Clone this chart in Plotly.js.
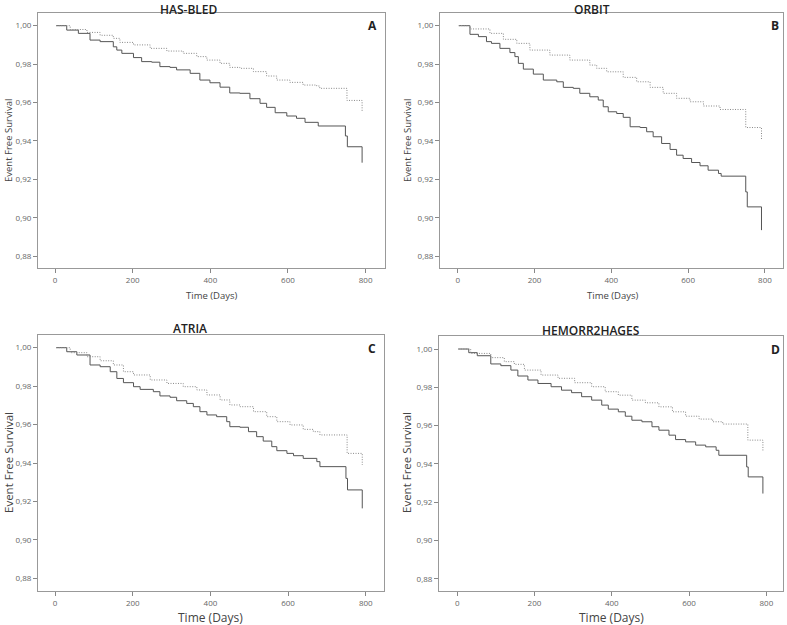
<!DOCTYPE html>
<html><head><meta charset="utf-8">
<script src="https://cdn.plot.ly/plotly-3.0.1.min.js"></script>
<style>html,body{margin:0;padding:0;background:#fff}#chart{width:787px;height:625px}</style>
</head><body><div id="chart"></div>
<script>
// Panel titles and labels
const panelTitles = ["HAS-BLED", "ORBIT", "ATRIA", "HEMORR2HAGES"];
const panelLetters = ["A", "B", "C", "D"];
const xTickVals = [0, 200, 400, 600, 800];
const yTickVals = [0.88, 0.90, 0.92, 0.94, 0.96, 0.98, 1.00];

// A: HAS-BLED
const aSolidDays = [3,30,60,90,116,150,159,172,202,223,249,270,296,313,348,373,399,425,450,476,502,528,545,567,597,622,644,678,748,753,791];
const aSolidSurv = [1.000,0.9977,0.996,0.9925,0.9917,0.989,0.9873,0.9856,0.9834,0.9813,0.981,0.9787,0.9783,0.977,0.9752,0.9717,0.9703,0.968,0.965,0.9648,0.962,0.9596,0.9575,0.9547,0.953,0.9518,0.9497,0.9478,0.9426,0.937,0.9287];
const aDotDays = [3,39,82,116,150,167,202,245,288,330,365,391,425,450,476,511,545,571,605,639,674,682,752,791];
const aDotSurv = [1.000,0.998,0.9965,0.995,0.9934,0.9913,0.990,0.9882,0.9868,0.9856,0.9839,0.9821,0.9804,0.9783,0.9778,0.9761,0.9738,0.9717,0.9705,0.9691,0.9686,0.9674,0.9611,0.9551];

// B: ORBIT
const bSolidDays = [3,10,32,54,75,88,110,136,149,158,171,197,223,258,275,301,318,344,366,379,392,414,431,449,475,492,509,531,553,570,587,609,631,652,679,686,750,754,791];
const bSolidSurv = [1.000,1.000,0.9955,0.9943,0.9917,0.9908,0.9882,0.986,0.9839,0.9804,0.9774,0.9748,0.9717,0.9708,0.9679,0.9674,0.9648,0.963,0.9613,0.9578,0.9552,0.9543,0.9523,0.9474,0.947,0.9448,0.9422,0.9387,0.9356,0.9326,0.9309,0.9288,0.9271,0.9248,0.9231,0.9217,0.9135,0.9057,0.8936];
const bDotDays = [3,32,84,119,154,188,240,292,344,362,388,431,466,501,535,570,605,640,683,750,791];
const bDotSurv = [1.000,0.9983,0.996,0.9929,0.9908,0.9873,0.9847,0.9821,0.9795,0.9778,0.976,0.9731,0.9708,0.9679,0.9648,0.9622,0.9604,0.9582,0.9564,0.947,0.9405];

// C: ATRIA
const cSolidDays = [3,30,56,90,116,142,159,176,202,219,253,270,296,313,339,356,373,391,416,442,450,476,498,519,536,558,571,597,614,639,674,682,749,753,791];
const cSolidSurv = [1.000,0.9979,0.9962,0.991,0.9901,0.9875,0.984,0.9818,0.9797,0.9783,0.9771,0.9749,0.9742,0.9724,0.971,0.9693,0.9667,0.965,0.9641,0.9615,0.9589,0.9586,0.9563,0.9537,0.9514,0.9485,0.9464,0.945,0.9438,0.9424,0.9407,0.9381,0.932,0.926,0.9164];
const cDotDays = [3,39,82,116,150,176,202,245,288,330,365,391,425,450,476,511,545,571,605,639,665,682,752,791];
const cDotSurv = [1.000,0.9974,0.9953,0.9932,0.991,0.9875,0.9858,0.9832,0.9814,0.9797,0.978,0.9754,0.9728,0.9702,0.9693,0.9667,0.9641,0.9615,0.9598,0.9575,0.9563,0.9546,0.945,0.939];

// D: HEMORR2HAGES
const dSolidDays = [3,30,52,87,113,139,157,183,209,243,270,296,322,348,374,391,417,435,452,478,504,522,548,565,591,617,643,670,677,749,753,791];
const dSolidSurv = [1.000,0.9981,0.9965,0.9922,0.9913,0.989,0.9859,0.9838,0.982,0.9803,0.9785,0.9772,0.9751,0.9733,0.9707,0.9686,0.9672,0.9649,0.9628,0.962,0.9594,0.9576,0.955,0.9527,0.9515,0.9498,0.9489,0.9471,0.9445,0.9384,0.9332,0.9245];
const dDotDays = [3,35,87,122,148,174,217,261,304,348,383,417,452,487,522,557,591,626,661,687,752,791];
const dDotSurv = [1.000,0.9977,0.9955,0.9934,0.992,0.989,0.9864,0.9847,0.9824,0.9803,0.9777,0.9759,0.9733,0.9719,0.9698,0.9672,0.9649,0.9634,0.962,0.9608,0.9524,0.9463];

const solidSeries = [[aSolidDays,aSolidSurv],[bSolidDays,bSolidSurv],[cSolidDays,cSolidSurv],[dSolidDays,dSolidSurv]];
const dotSeries = [[aDotDays,aDotSurv],[bDotDays,bDotSurv],[cDotDays,cDotSurv],[dDotDays,dDotSurv]];

const W = 787, H = 625;
// frame boxes in pixels: [left, right, top, bottom], and axis ranges
const frames = [
  {l:38, r:385, t:13, b:268, xr:[-44, 850], yr:[0.8739, 1.0066]},
  {l:440, r:783, t:13, b:268, xr:[-46, 847], yr:[0.8739, 1.0066]},
  {l:38, r:384, t:335, b:591, xr:[-44, 847], yr:[0.8734, 1.0066]},
  {l:439, r:783, t:336, b:591, xr:[-47, 843], yr:[0.8736, 1.0068]}
];

const traces = [];
const layout = {
  width: W, height: H, margin:{l:0,r:0,t:0,b:0},
  paper_bgcolor:'#fff', plot_bgcolor:'#fff', showlegend:false,
  separators: ',.',
  font:{family:'"Open Sans", "DejaVu Sans", sans-serif', color:'#333'},
  annotations: []
};
const sfx = ['', '2', '3', '4'];
const titlePos = [[189,7],[592,7],[190,328],[591,330]];
const letterPos = [[372,25],[775,25],[372,348],[775,349]];
const yTitle = [{x:8,y:141,s:9.5},{x:407,y:141,s:9.5},{x:8,y:463,s:11.5},{x:406,y:463,s:11.5}];
const xTitle = [{x:211,y:295,s:9.5},{x:612,y:295,s:9.5},{x:210,y:617,s:12},{x:611,y:617,s:12}];

for (let i=0;i<4;i++){
  const f = frames[i];
  const xa = 'xaxis'+sfx[i], ya = 'yaxis'+sfx[i];
  const xs = 'x'+sfx[i], ys = 'y'+sfx[i];
  traces.push({x:solidSeries[i][0], y:solidSeries[i][1], xaxis:xs, yaxis:ys, mode:'lines',
    line:{shape:'hv', color:'#555', width:1}, hoverinfo:'skip'});
  traces.push({x:dotSeries[i][0], y:dotSeries[i][1], xaxis:xs, yaxis:ys, mode:'lines',
    line:{shape:'hv', color:'#888', width:1, dash:'1px,1.5px'}, hoverinfo:'skip'});
  layout[xa] = {domain:[f.l/W, f.r/W], range:f.xr, anchor:ys, showgrid:false, zeroline:false,
    showline:true, linecolor:'#999', linewidth:1, mirror:true, ticks:'outside', ticklen:4,
    tickcolor:'#888', tickvals:xTickVals, tickfont:{size:8, color:'#666'}, fixedrange:true};
  layout[ya] = {domain:[1-f.b/H, 1-f.t/H], range:f.yr, anchor:xs, showgrid:false, zeroline:false,
    showline:true, linecolor:'#999', linewidth:1, mirror:true, ticks:'outside', ticklen:4,
    tickcolor:'#888', tickvals:yTickVals, tickformat:'.2f', tickfont:{size:8, color:'#666'}, fixedrange:true};
  layout.annotations.push({text:panelTitles[i], xref:'paper', yref:'paper', x:titlePos[i][0]/W, y:1-titlePos[i][1]/H,
    xanchor:'center', yanchor:'middle', showarrow:false, borderpad:0, font:{size:12, color:'#222', family:'"Open Sans", sans-serif', weight:600}});
  layout.annotations.push({text:'<b>'+panelLetters[i]+'</b>', xref:'paper', yref:'paper', x:letterPos[i][0]/W, y:1-letterPos[i][1]/H,
    xanchor:'center', yanchor:'middle', showarrow:false, font:{size:12, color:'#222'}});
  layout.annotations.push({text:'Event Free Survival', xref:'paper', yref:'paper', x:yTitle[i].x/W, y:1-yTitle[i].y/H,
    xanchor:'center', yanchor:'middle', textangle:-90, showarrow:false, font:{size:yTitle[i].s, color:'#444'}});
  layout.annotations.push({text:'Time (Days)', xref:'paper', yref:'paper', x:xTitle[i].x/W, y:1-xTitle[i].y/H,
    xanchor:'center', yanchor:'middle', showarrow:false, font:{size:xTitle[i].s, color:'#444'}});
}
// top titles: anchor by top edge so they are not clipped
layout.annotations[0].y = 1; layout.annotations[0].yanchor = 'top';
layout.annotations[4].y = 1; layout.annotations[4].yanchor = 'top';

Plotly.newPlot('chart', traces, layout, {displayModeBar:false, staticPlot:true});
</script></body></html>
